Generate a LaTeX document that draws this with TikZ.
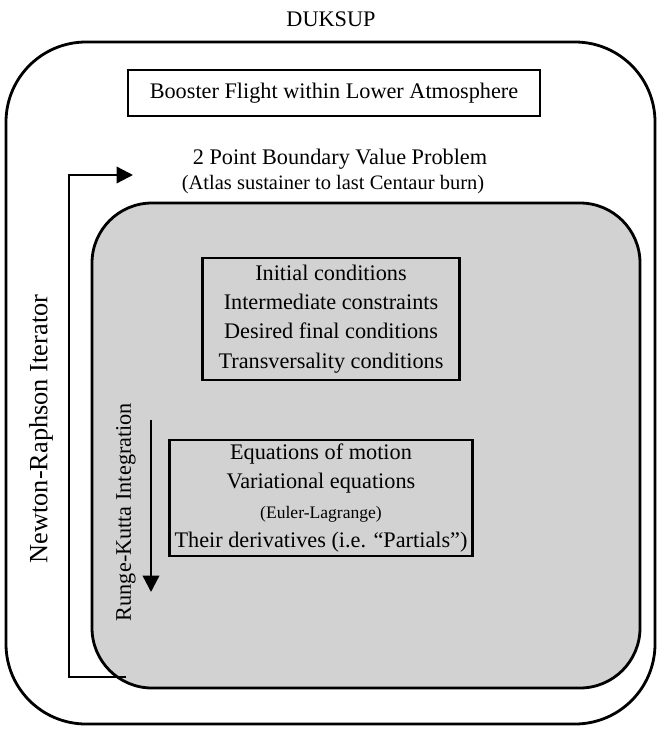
\documentclass[tikz,border=0pt]{standalone}
\usepackage{fontspec}
\setmainfont{Liberation Serif}
\usetikzlibrary{positioning,calc,arrows.meta}

\begin{document}
\begin{tikzpicture}
      [x=0.03cm,y=-0.03cm,
      frame/.style={draw=black,line width=2.4pt,rounded corners=2.4cm},
      inner frame/.style={draw=black,line width=2.4pt,rounded corners=1.8cm,fill=gray!35},
      textbox/.style={draw=black,line width=2pt,inner sep=0pt},
      label text/.style={font=\fontsize{19}{25}\selectfont,align=center,inner sep=0pt},
      small text/.style={font=\fontsize{17.5}{20}\selectfont,align=center,inner sep=0pt},
      side text/.style={font=\fontsize{22.5}{26}\selectfont,inner sep=0pt,rotate=90},
      flow/.style={line width=2pt,-{Triangle[length=14pt,width=14pt]}}]
     \useasboundingbox (0,0) rectangle (663,731);
     % outer frame and title
     \node[label text] (duksup) at (331,19) {DUKSUP};
     \draw[frame] (6,42) rectangle (655,724);
     \node[textbox,minimum width=412*0.03cm,minimum height=46*0.03cm] (booster) at (334,93) {};
     \node[label text] at (booster) {Booster Flight within Lower Atmosphere};
     % 2 point boundary value problem
     \node[label text] (bvp) at (340,159) {2 Point Boundary Value Problem};
     \node[small text] (bvpsub) at (333,185) {(Atlas sustainer to last Centaur burn)};
     \draw[inner frame] (92,203) rectangle (640,688);
     \node[textbox,minimum width=257*0.03cm,minimum height=122*0.03cm] (conds) at (331,319) {};
     \node[label text] at (conds) {Initial conditions\\Intermediate constraints\\Desired final conditions\\Transversality conditions};
     \node[textbox,minimum width=303*0.03cm,minimum height=116*0.03cm] (eqs) at (321,498) {};
     \node[label text] at (eqs) {Equations of motion\\Variational equations\\{\fontsize{15}{20}\selectfont(Euler-Lagrange)}\\Their derivatives (i.e. “Partials”)};
     % integrators
     \coordinate (rktop) at (151,420);
     \coordinate (rkbot) at (151,592);
     \draw[flow] (rktop) -- (rkbot);
     \node[side text,font=\fontsize{19}{25}\selectfont] (rk) at (126,512) {Runge-Kutta Integration};
     \coordinate (nrstart) at (126,677);
     \coordinate (nrend) at (133,175);
     \draw[flow] (nrstart) -- (69,677) -- (69,175) -- (nrend);
     \node[side text] (nr) at (41,429) {Newton-Raphson Iterator};
\end{tikzpicture}
\end{document}
